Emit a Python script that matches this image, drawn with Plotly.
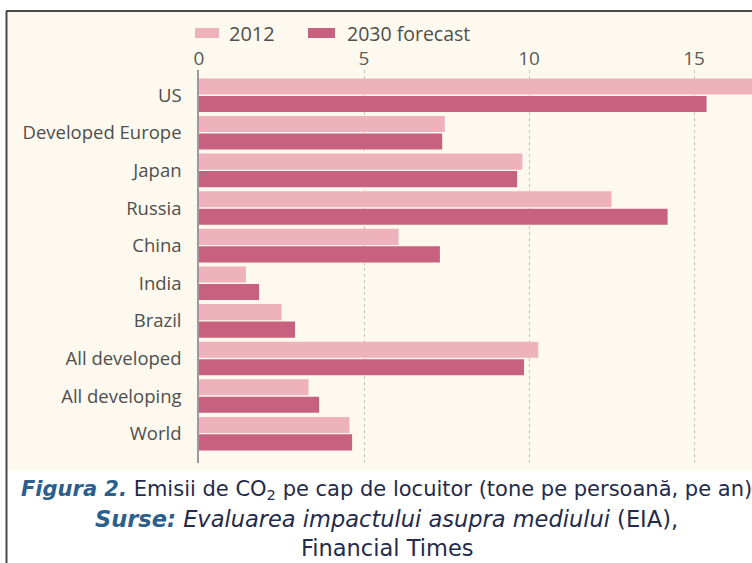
import plotly.graph_objects as go

# ---- data ----
categories = ["US", "Developed Europe", "Japan", "Russia", "China", "India",
              "Brazil", "All developed", "All developing", "World"]
values_2012 = [17.0, 7.45, 9.8, 12.5, 6.05, 1.42, 2.5, 10.28, 3.32, 4.56]
values_2030 = [15.38, 7.37, 9.64, 14.2, 7.3, 1.82, 2.91, 9.85, 3.64, 4.64]
series_names = ["2012", "2030 forecast"]
x_ticks = [0, 5, 10, 15]

# ---- style ----
W, H = 752, 563
L, R, T, B = 199, 0, 70, 100
PW, PH = W - L - R, H - T - B
CREAM = "#FDF9EE"
C2012 = "#EEB2BD"
C2030 = "#C8607F"
LABEL = "#4F4F4F"
BLUE = "#2B5F8E"
NAVY = "#232B4B"
FONT = "Open Sans"
CAP_FONT = "DejaVu Sans"


def px_x(px):
    return (px - L) / PW


def px_y(py):
    return (H - B - py) / PH


fig = go.Figure()
fig.add_trace(go.Bar(y=categories, x=values_2012, name=series_names[0],
                     orientation="h", marker=dict(color=C2012, line_width=0),
                     showlegend=False))
fig.add_trace(go.Bar(y=categories, x=values_2030, name=series_names[1],
                     orientation="h", marker=dict(color=C2030, line_width=0),
                     showlegend=False))

shapes = [
    # cream panel
    dict(type="rect", xref="paper", yref="paper", layer="below",
         x0=px_x(7), x1=px_x(W + 2), y0=px_y(471), y1=px_y(12),
         fillcolor=CREAM, line_width=0),
    # frame lines
    dict(type="line", xref="paper", yref="paper",
         x0=px_x(6.5), x1=px_x(6.5), y0=px_y(H + 2), y1=px_y(11),
         line=dict(color="#4A4A4A", width=2)),
    dict(type="line", xref="paper", yref="paper",
         x0=px_x(6), x1=px_x(W + 2), y0=px_y(11), y1=px_y(11),
         line=dict(color="#4A4A4A", width=2)),
    # legend swatches
    dict(type="rect", xref="paper", yref="paper",
         x0=px_x(195), x1=px_x(219), y0=px_y(38), y1=px_y(28),
         fillcolor=C2012, line_width=0),
    dict(type="rect", xref="paper", yref="paper",
         x0=px_x(308), x1=px_x(335), y0=px_y(38), y1=px_y(28),
         fillcolor=C2030, line_width=0),
]

annotations = [
    dict(text=series_names[0], x=px_x(227), y=px_y(33), xref="paper", yref="paper",
         xanchor="left", yanchor="middle", showarrow=False,
         font=dict(family=FONT, size=20, color=LABEL)),
    dict(text=series_names[1], x=px_x(345), y=px_y(33), xref="paper", yref="paper",
         xanchor="left", yanchor="middle", showarrow=False,
         font=dict(family=FONT, size=19.5, color=LABEL)),
    dict(text=f"<span style='color:{BLUE}'><b><i>Figura 2.</i></b></span> Emisii de CO<sub>2</sub> pe cap de locuitor (tone pe persoană, pe an)",
         x=px_x(386), y=px_y(490), xref="paper", yref="paper",
         xanchor="center", yanchor="middle", showarrow=False,
         font=dict(family=CAP_FONT, size=21, color=NAVY)),
    dict(text=f"<span style='color:{BLUE}'><b><i>Surse:</i></b></span> <i>Evaluarea impactului asupra mediului</i> (EIA),",
         x=px_x(386), y=px_y(519), xref="paper", yref="paper",
         xanchor="center", yanchor="middle", showarrow=False,
         font=dict(family=CAP_FONT, size=22.5, color=NAVY)),
    dict(text="Financial Times",
         x=px_x(387), y=px_y(548), xref="paper", yref="paper",
         xanchor="center", yanchor="middle", showarrow=False,
         font=dict(family=CAP_FONT, size=22.5, color=NAVY)),
]

fig.update_layout(
    width=W, height=H,
    margin=dict(l=L, r=R, t=T, b=B, pad=0),
    paper_bgcolor="white", plot_bgcolor=CREAM,
    barmode="group", bargap=0.07, bargroupgap=0.08,
    shapes=shapes, annotations=annotations,
    font=dict(family=FONT, color=LABEL),
    xaxis=dict(side="top", range=[0, PW / 33.0], tickvals=x_ticks,
               ticktext=[str(v) for v in x_ticks],
               showgrid=True, gridcolor="#C9C4BA", griddash="dot", gridwidth=1,
               zeroline=False, showline=False, ticks="",
               tickfont=dict(family=FONT, size=19, color="#5A5A5A")),
    yaxis=dict(type="category", categoryorder="array", categoryarray=categories,
               range=[9.78, -0.67], showgrid=False, zeroline=False,
               showline=True, linecolor="#9A9A9A", linewidth=1.5,
               ticks="", ticklabelstandoff=12,
               tickfont=dict(family=FONT, size=18.5, color=LABEL)),
)

fig.write_html("out.html")
